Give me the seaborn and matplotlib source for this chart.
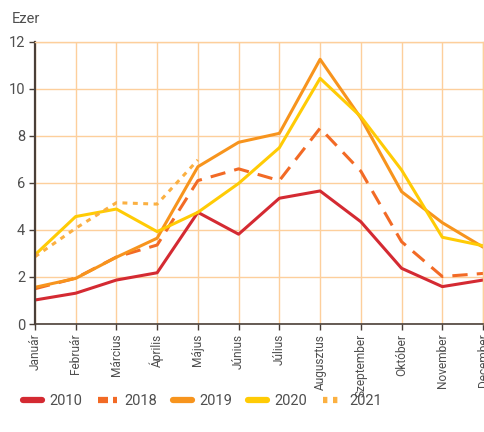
import numpy as np
import pandas as pd
import matplotlib
matplotlib.use("Agg")
import matplotlib.pyplot as plt
from matplotlib.lines import Line2D
import seaborn as sns

months = ["Január", "Február", "Március", "Április", "Május", "Június",
          "Július", "Augusztus", "Szeptember", "Október", "November", "December"]

y2010 = [1.02, 1.31, 1.87, 2.18, 4.75, 3.82, 5.35, 5.66, 4.35, 2.37, 1.59, 1.87]
y2018 = [1.50, 1.95, 2.85, 3.36, 6.10, 6.60, 6.10, 8.33, 6.50, 3.50, 2.02, 2.15]
y2019 = [1.56, 1.94, 2.84, 3.65, 6.69, 7.73, 8.11, 11.26, 8.76, 5.63, 4.31, 3.27]
y2020 = [2.94, 4.57, 4.89, 3.93, 4.75, 5.98, 7.50, 10.45, 8.82, 6.55, 3.69, 3.33]
y2021 = [2.86, 4.07, 5.16, 5.10, 6.98] + [np.nan] * 7

years = ["2010", "2018", "2019", "2020", "2021"]
colors = {"2010": "#d42a32", "2018": "#f26a25", "2019": "#f7941d",
          "2020": "#ffcb05", "2021": "#fbb041"}
dashes = {"2010": "", "2018": (5, 3), "2019": "", "2020": "", "2021": (1.6, 1.8)}

frames = []
for yr, vals in zip(years, [y2010, y2018, y2019, y2020, y2021]):
    frames.append(pd.DataFrame({"month": np.arange(12), "value": vals, "year": yr}))
df = pd.concat(frames, ignore_index=True)

sns.set_style("white")
plt.rcParams["font.family"] = ["Roboto", "DejaVu Sans"]

text_col = "#4f4f4f"
grid_col = "#fdcf9c"
axis_col = "#4a3f38"

fig = plt.figure(figsize=(4.85, 4.32), dpi=100)
ax = fig.add_axes([0.072, 0.25, 0.924, 0.653])

sns.lineplot(data=df, x="month", y="value", hue="year", style="year",
             palette=colors, dashes=dashes, linewidth=2.2, ax=ax, legend=False)

ax.set_xlim(0, 11)
ax.set_ylim(0, 12)
ax.set_yticks(range(0, 13, 2))
ax.set_xticks(range(12))
ax.set_xticklabels(months, rotation=90, fontsize=8.6, color=text_col)
ax.tick_params(axis="y", labelsize=10.5, colors=axis_col, labelcolor=text_col,
               length=4, width=1, direction="out", left=True, pad=3)
ax.tick_params(axis="x", colors=axis_col, labelcolor=text_col,
               length=4, width=1, direction="out", bottom=True, pad=3)
ax.set_xlabel("")
ax.set_ylabel("")

ax.grid(True, color=grid_col, linewidth=1)
ax.set_axisbelow(True)
for side in ["top", "right"]:
    ax.spines[side].set_color(grid_col)
    ax.spines[side].set_linewidth(1)
ax.spines["left"].set_color(axis_col)
ax.spines["left"].set_linewidth(1.6)
ax.spines["bottom"].set_color(axis_col)
ax.spines["bottom"].set_linewidth(1.2)

fig.text(0.025, 0.955, "Ezer", fontsize=10.5, color=text_col, va="center")

handles = [
    Line2D([0], [0], color=colors["2010"], linewidth=4.5),
    Line2D([0], [0], color=colors["2018"], linewidth=4.5, dashes=(1.6, 0.8)),
    Line2D([0], [0], color=colors["2019"], linewidth=4.5),
    Line2D([0], [0], color=colors["2020"], linewidth=4.5),
    Line2D([0], [0], color=colors["2021"], linewidth=4.5, dashes=(0.7, 0.9)),
]
leg = fig.legend(handles, years, loc="center left", bbox_to_anchor=(0.035, 0.072),
                 ncol=5, frameon=False, fontsize=10.5, handlelength=1.3,
                 handletextpad=0.5, columnspacing=1.1, borderaxespad=0)
for t in leg.get_texts():
    t.set_color(text_col)

fig.savefig("out.png", dpi=100)
